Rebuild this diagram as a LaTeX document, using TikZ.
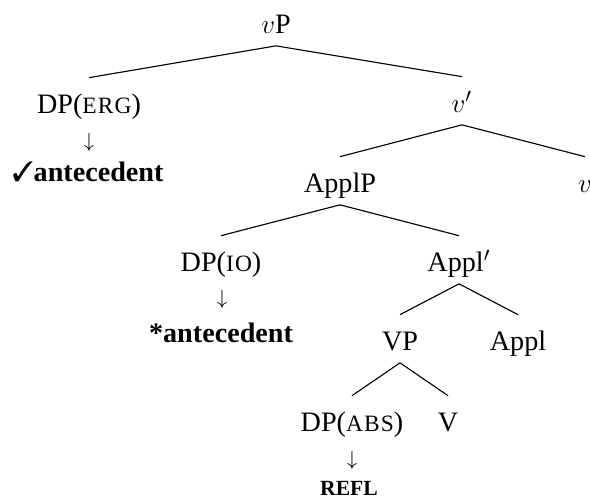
\documentclass[tikz,border=0pt,12pt]{standalone}
\usepackage{fontspec}
\setmainfont{Liberation Serif}
\usepackage{pifont}
\usetikzlibrary{positioning}
\newcommand{\smc}[1]{{\addfontfeature{LetterSpace=5}\fontsize{10.4pt}{12pt}\selectfont #1}}
\tikzset{
  % body size of all labels
  every node/.style={font=\fontsize{12.5pt}{15pt}\selectfont},
  % category labels of the tree
  cat/.style={anchor=base, inner xsep=1pt, inner ysep=3pt, text height=12.5pt, text depth=2.5pt},
  % small arrow under a DP
  down/.style={inner sep=0pt, font=\fontsize{9pt}{9pt}\selectfont},
  % bold note under the arrow
  note/.style={anchor=base, inner sep=0pt, font=\fontsize{12.5pt}{15pt}\selectfont\bfseries},
  % branches
  branch/.style={line width=0.5pt},
}
\begin{document}
\begin{tikzpicture}[x=0.444pt, y=-0.444pt]
  \useasboundingbox (0,0) rectangle (590,502);

  % nodes of the tree
  \node[cat] (vP)     at (276,33)  {$v$P};
  \node[cat] (erg)    at (89,113)  {DP(\smc{ERG})};
  \node[cat] (vbar)   at (462,112) {$v'$};
  \node[cat] (applP)  at (340,192) {ApplP};
  \node[cat] (vhead)  at (585,192) {$v$};
  \node[cat] (io)     at (221,271) {DP(\smc{IO})};
  \node[cat] (applb)  at (459,271) {Appl$'$};
  \node[cat] (VP)     at (400,350) {VP};
  \node[cat] (appl)   at (518,350) {Appl};
  \node[cat] (abs)    at (352,431) {DP(\smc{ABS})};
  \node[cat] (verb)   at (448,431) {V};

  % arrows and notes
  \node[down] (d1) at (89,142)  {$\downarrow$};
  \node[note] (n1) at (88,181)  {\ding{51}antecedent};
  \node[down] (d2) at (222,299) {$\downarrow$};
  \node[note] (n2) at (221,342) {*antecedent};
  \node[down] (d3) at (352,460) {$\downarrow$};
  \node[note] (n3) at (349,495) {\fontsize{9.6pt}{11pt}\selectfont REFL};

  % branches
  \draw[branch] (vP.south) -- (erg.north);
  \draw[branch] (vP.south) -- (vbar.north);
  \draw[branch] (vbar.south) -- (applP.north);
  \draw[branch] (vbar.south) -- (vhead.north);
  \draw[branch] (applP.south) -- (io.north);
  \draw[branch] (applP.south) -- (applb.north);
  \draw[branch] (applb.south) -- (VP.north);
  \draw[branch] (applb.south) -- (appl.north);
  \draw[branch] (VP.south) -- (abs.north);
  \draw[branch] (VP.south) -- (verb.north);
\end{tikzpicture}
\end{document}
